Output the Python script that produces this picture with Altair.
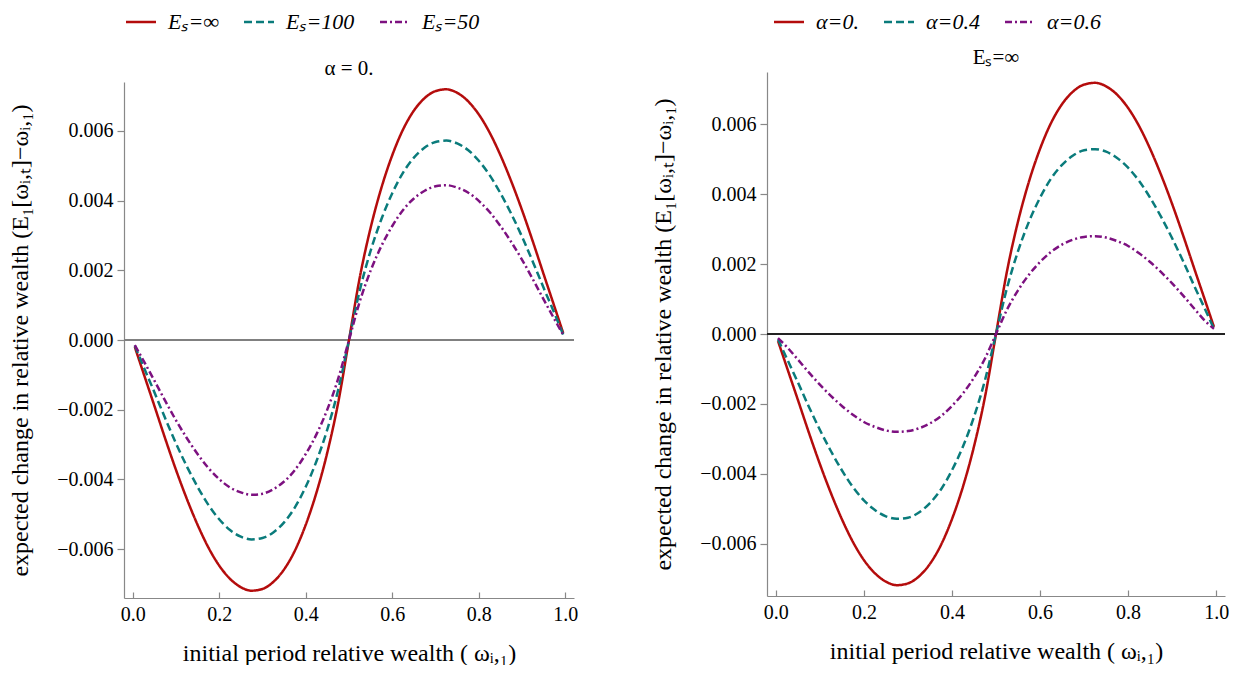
import altair as alt
import pandas as pd

# ---------------- data ----------------
x_vals = [0.005, 0.025, 0.05, 0.075, 0.1, 0.125, 0.15, 0.175, 0.2, 0.225, 0.25, 0.275, 0.3, 0.325, 0.35, 0.375,
          0.4, 0.425, 0.45, 0.475, 0.5,
          0.525, 0.55, 0.575, 0.6, 0.625, 0.65, 0.675, 0.7, 0.725, 0.75, 0.775, 0.8, 0.825, 0.85, 0.875,
          0.9, 0.925, 0.95, 0.975, 0.995]

# left panel (alpha = 0.)
es_inf = [-0.0002, -0.00095, -0.00188, -0.00282, -0.00372, -0.00455, -0.0053, -0.00595, -0.00647, -0.00685,
          -0.00709, -0.00719, -0.00714, -0.00694, -0.00658, -0.00604, -0.0053, -0.00437, -0.00322, -0.0018, 0.0,
          0.0018, 0.00322, 0.00437, 0.0053, 0.00604, 0.00658, 0.00694, 0.00714, 0.00719, 0.00709, 0.00685,
          0.00647, 0.00595, 0.0053, 0.00455, 0.00372, 0.00282, 0.00188, 0.00095, 0.0002]
es_100 = [-0.00016, -0.00076, -0.00149, -0.00224, -0.00296, -0.00362, -0.00421, -0.00473, -0.00514, -0.00545,
          -0.00564, -0.00572, -0.00568, -0.00552, -0.00523, -0.0048, -0.00421, -0.00347, -0.00256, -0.00143, 0.0,
          0.00143, 0.00256, 0.00347, 0.00421, 0.0048, 0.00523, 0.00552, 0.00568, 0.00572, 0.00564, 0.00545,
          0.00514, 0.00473, 0.00421, 0.00362, 0.00296, 0.00224, 0.00149, 0.00076, 0.00016]
es_50 = [-0.00015, -0.00059, -0.00116, -0.00174, -0.0023, -0.00281, -0.00327, -0.00367, -0.00399, -0.00423,
         -0.00437, -0.00444, -0.00441, -0.00428, -0.00406, -0.00373, -0.00327, -0.0027, -0.00199, -0.00111, 0.0,
         0.00111, 0.00199, 0.0027, 0.00327, 0.00373, 0.00406, 0.00428, 0.00441, 0.00444, 0.00437, 0.00423,
         0.00399, 0.00367, 0.00327, 0.00281, 0.0023, 0.00174, 0.00116, 0.00059, 0.00015]

# right panel (E_s = infinity)
alpha_0 = [-0.0002, -0.00095, -0.00188, -0.00282, -0.00372, -0.00455, -0.0053, -0.00595, -0.00647, -0.00685,
           -0.00709, -0.00719, -0.00714, -0.00694, -0.00658, -0.00604, -0.0053, -0.00437, -0.00322, -0.0018, 0.0,
           0.0018, 0.00322, 0.00437, 0.0053, 0.00604, 0.00658, 0.00694, 0.00714, 0.00719, 0.00709, 0.00685,
           0.00647, 0.00595, 0.0053, 0.00455, 0.00372, 0.00282, 0.00188, 0.00095, 0.0002]
alpha_04 = [-0.00015, -0.0007, -0.00138, -0.00208, -0.00274, -0.00335, -0.0039, -0.00438, -0.00476, -0.00504,
            -0.00522, -0.00529, -0.00526, -0.00511, -0.00484, -0.00445, -0.0039, -0.00322, -0.00237, -0.00132, 0.0,
            0.00132, 0.00237, 0.00322, 0.0039, 0.00445, 0.00484, 0.00511, 0.00526, 0.00529, 0.00522, 0.00504,
            0.00476, 0.00438, 0.0039, 0.00335, 0.00274, 0.00208, 0.00138, 0.0007, 0.00015]
alpha_06 = [-0.00012, -0.00037, -0.00073, -0.0011, -0.00145, -0.00177, -0.00206, -0.00231, -0.00252, -0.00266,
            -0.00276, -0.0028, -0.00278, -0.0027, -0.00256, -0.00235, -0.00206, -0.0017, -0.00125, -0.0007, 0.0,
            0.0007, 0.00125, 0.0017, 0.00206, 0.00235, 0.00256, 0.0027, 0.00278, 0.0028, 0.00276, 0.00266,
            0.00252, 0.00231, 0.00206, 0.00177, 0.00145, 0.0011, 0.00073, 0.00037, 0.00015]

left_labels = ["Eₛ=∞", "Eₛ=100", "Eₛ=50"]
right_labels = ["α=0.", "α=0.4", "α=0.6"]
x_ticks = [0.0, 0.2, 0.4, 0.6, 0.8, 1.0]
y_ticks = [-0.006, -0.004, -0.002, 0.0, 0.002, 0.004, 0.006]

colors = ["#B40C0C", "#0A7B7B", "#7D1180"]
dashes = [[1, 0], [8, 4], [7, 3, 2, 3]]

FONT = "Liberation Serif"
Y_TITLE = "expected change in relative wealth (E₁[ωᵢ,ₜ]−ωᵢ,₁)"
X_TITLE = "initial period relative wealth ( ωᵢ,₁)"


def panel(series, labels, title, ydom, width, height, yrange, zero_color, zero_width, lx, ly, title_offset):
    rows = []
    for lab, ys in zip(labels, series):
        for xv, yv in zip(x_vals, ys):
            rows.append({"x": xv, "y": yv, "s": lab})
    df = pd.DataFrame(rows)
    xscale = alt.Scale(domain=[-0.02, 1.02], nice=False, zero=False)
    yscale = alt.Scale(domain=ydom, nice=False, zero=False, range=yrange)
    leg = alt.Legend(orient="none", legendX=lx, legendY=ly, direction="horizontal", title=None,
                     symbolType="M-2,0L2,0", symbolStrokeWidth=2.5, symbolSize=225, labelFont=FONT,
                     labelFontSize=22, labelFontStyle="italic", labelOffset=16, columnPadding=20,
                     labelColor="black", symbolLimit=0)
    base = alt.Chart(df)
    zero = base.mark_rule(color=zero_color, strokeWidth=zero_width).encode(y=alt.datum(0, scale=yscale))
    lines = base.mark_line(strokeWidth=2.5, interpolate="monotone").encode(
        x=alt.X("x:Q", scale=xscale,
                axis=alt.Axis(values=x_ticks, format=".1f", ticks=False, tickSize=0, title=X_TITLE,
                              labelFont=FONT, titleFont=FONT,
                              labelPadding=6, titlePadding=17, grid=False)),
        y=alt.Y("y:Q", scale=yscale,
                axis=alt.Axis(values=y_ticks, format=".3f", ticks=True, tickSize=7, title=Y_TITLE,
                              labelFont=FONT, titleFont=FONT,
                              labelPadding=4, titlePadding=24, grid=False)),
        color=alt.Color("s:N", scale=alt.Scale(domain=labels, range=colors), legend=leg, sort=labels),
        strokeDash=alt.StrokeDash("s:N", scale=alt.Scale(domain=labels, range=dashes), legend=leg, sort=labels),
    )
    inner_ticks = base.mark_point(opacity=0).encode(
        x=alt.X("x:Q", scale=xscale,
                axis=alt.Axis(orient="top", offset=-height, values=x_ticks, labels=False, domain=False,
                              ticks=True, tickSize=6, title=None, grid=False)),
    )
    return alt.layer(zero, lines, inner_ticks).resolve_axis(x="independent").properties(
        width=width, height=height,
        title=alt.TitleParams(title, font=FONT, fontSize=21, fontWeight="normal", offset=title_offset,
                              anchor="middle", color="black"),
    )


left = panel([es_inf, es_100, es_50], left_labels, "α = 0.", [-0.0074, 0.0074], 450, 526, [526, 10],
             "#808080", 1.6, 6, -61, -68)
right = panel([alpha_0, alpha_04, alpha_06], right_labels, "Eₛ=∞", [-0.0075, 0.0075], 458, 524, [524, 0],
              "#222222", 1.0, 11, -61, -57)

chart = alt.hconcat(left, right, spacing=73).resolve_scale(
    color="independent", strokeDash="independent"
).properties(
    padding={"left": 0, "top": 3, "right": 0, "bottom": 0}
).configure_view(stroke=None).configure_axis(
    labelFont=FONT, labelFontSize=20, labelColor="black",
    titleFont=FONT, titleFontSize=24, titleFontWeight="normal", titleColor="black",
    domainColor="#888888", tickColor="#888888", domainWidth=1.2, tickWidth=1.2,
)

chart.save("out.html", embed_options={"renderer": "svg", "actions": False})
